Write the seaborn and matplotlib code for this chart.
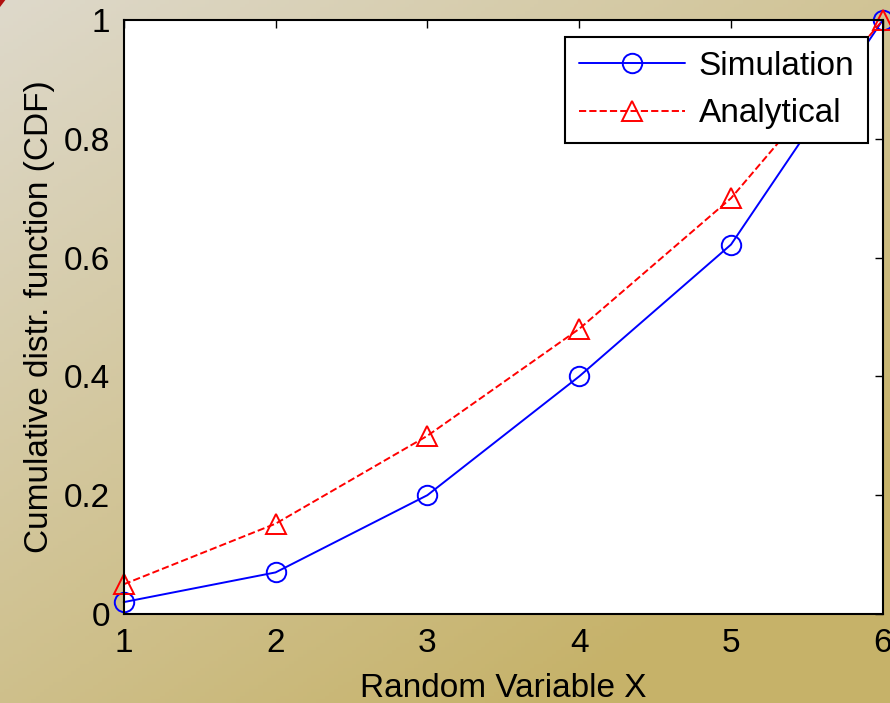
import numpy as np
import pandas as pd
import matplotlib
matplotlib.use("Agg")
import matplotlib.pyplot as plt
from matplotlib.patches import Polygon
import seaborn as sns

# Data
x_vals = [1, 2, 3, 4, 5, 6]
simulation = [0.02, 0.07, 0.20, 0.40, 0.622, 1.0]
analytical = [0.05, 0.152, 0.30, 0.48, 0.70, 1.0]
x_ticks = [1, 2, 3, 4, 5, 6]
y_ticks = [0, 0.2, 0.4, 0.6, 0.8, 1]

sns.set_style("white")
plt.rcParams['font.family'] = ['Liberation Sans', 'DejaVu Sans']
plt.rcParams['text.color'] = 'black'
plt.rcParams['axes.labelcolor'] = 'black'

df = pd.DataFrame({
    'x': x_vals * 2,
    'cdf': simulation + analytical,
    'series': ['Simulation'] * 6 + ['Analytical'] * 6,
})

fig = plt.figure(figsize=(8.9, 7.03), dpi=100)

# beige-to-gold gradient background
bg = fig.add_axes([0, 0, 1, 1], zorder=-10)
yy, xx = np.mgrid[0:1:200j, 0:1:200j]
t = np.clip(0.55 * xx + 0.65 * yy, 0, 1)[..., None]
c0 = np.array([222, 217, 203]) / 255
c1 = np.array([198, 178, 105]) / 255
bg.imshow(c0 * (1 - t) + c1 * t, aspect='auto', extent=[0, 1, 0, 1], origin='upper')
bg.axis('off')
# tiny red corner of a slide decoration, top-left
fig.patches.append(Polygon([[0, 1], [0.006, 1], [0, 0.99]], closed=True,
                           transform=fig.transFigure, color='#b01010', lw=0))

ax = fig.add_axes([0.139, 0.1266, 0.853, 0.845])
ax.set_facecolor('white')

sns.lineplot(data=df[df.series == 'Simulation'], x='x', y='cdf', ax=ax, color='blue',
             marker='o', markersize=14, mfc='none', mec='blue', mew=1.4, lw=1.4,
             label='Simulation', clip_on=False)
sns.lineplot(data=df[df.series == 'Analytical'], x='x', y='cdf', ax=ax, color='red',
             marker='^', markersize=15, mfc='none', mec='red', mew=1.4, lw=1.4,
             linestyle='--', dashes=(3, 2), label='Analytical', clip_on=False)

ax.set_xlim(1, 6)
ax.set_ylim(0, 1)
ax.set_xticks(x_ticks)
ax.set_yticks(y_ticks)
ax.set_yticklabels(['0', '0.2', '0.4', '0.6', '0.8', '1'])
ax.tick_params(direction='in', length=6, width=1, labelsize=24, top=True, right=True,
               pad=10, colors='black')
for s in ax.spines.values():
    s.set_visible(True)
    s.set_color('black')
    s.set_linewidth(1.5)

ax.set_xlabel('Random Variable X', fontsize=24, labelpad=10)
ax.set_ylabel('Cumulative distr. function (CDF)', fontsize=24, labelpad=6)

leg = ax.legend(loc='upper right', bbox_to_anchor=(0.98, 0.971), borderaxespad=0,
                fontsize=24, frameon=True, fancybox=False, edgecolor='black',
                framealpha=1, handlelength=3.2, borderpad=0.4, labelspacing=0.5,
                handletextpad=0.4)
leg.get_frame().set_linewidth(1.5)

fig.savefig('out.png', dpi=100)
